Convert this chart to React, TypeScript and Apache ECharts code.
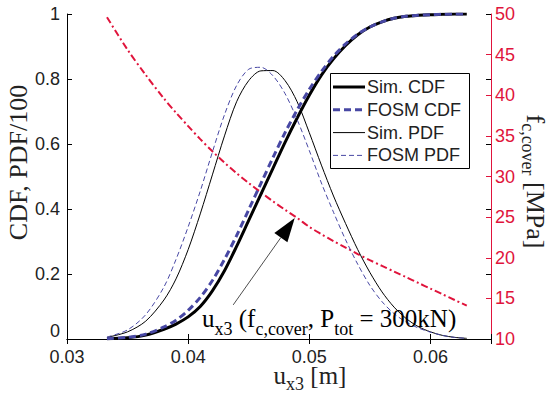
import React, { useEffect, useRef } from 'react';
import * as echarts from 'echarts';

// x values (u_x3 in m)
const U = [0.0333, 0.035, 0.0365, 0.038, 0.039, 0.040, 0.041, 0.042, 0.043, 0.044, 0.045, 0.046, 0.047, 0.048, 0.049, 0.050, 0.051, 0.052, 0.053, 0.054, 0.055, 0.056, 0.057, 0.058, 0.059, 0.060, 0.061, 0.062, 0.063];
const SIM_CDF = [0.001, 0.004, 0.012, 0.03, 0.046, 0.068, 0.10, 0.148, 0.21, 0.285, 0.365, 0.445, 0.525, 0.605, 0.68, 0.75, 0.812, 0.862, 0.903, 0.936, 0.96, 0.976, 0.987, 0.993, 0.996, 0.998, 0.999, 1.0, 1.0];
const FOSM_CDF = [0.001, 0.005, 0.015, 0.037, 0.058, 0.088, 0.128, 0.18, 0.245, 0.318, 0.398, 0.478, 0.558, 0.635, 0.705, 0.768, 0.823, 0.87, 0.908, 0.938, 0.96, 0.976, 0.987, 0.993, 0.996, 0.998, 0.999, 1.0, 1.0];
const SIM_PDF = [0.005, 0.022, 0.055, 0.12, 0.185, 0.275, 0.385, 0.505, 0.625, 0.73, 0.795, 0.825, 0.826, 0.795, 0.73, 0.635, 0.535, 0.44, 0.355, 0.275, 0.205, 0.145, 0.098, 0.063, 0.038, 0.022, 0.011, 0.005, 0.002];
const FOSM_PDF = [0.006, 0.028, 0.075, 0.16, 0.245, 0.345, 0.455, 0.575, 0.69, 0.78, 0.83, 0.836, 0.81, 0.755, 0.675, 0.58, 0.48, 0.39, 0.305, 0.23, 0.165, 0.115, 0.078, 0.052, 0.034, 0.021, 0.011, 0.005, 0.002];
const F_COVER = [49.6, 45.6, 42.5, 39.6, 37.85, 36.2, 34.6, 33.1, 31.7, 30.4, 29.2, 28.05, 26.95, 25.9, 24.9, 23.8, 22.9, 22.05, 21.25, 20.45, 19.7, 19.0, 18.3, 17.6, 16.9, 16.2, 15.5, 14.8, 14.1];

const LEGEND_NAMES = ['Sim. CDF', 'FOSM CDF', 'Sim. PDF', 'FOSM PDF'];
const ARROW_TIP = [0.0488, 24.9];
const ARROW_TAIL = [0.04372, 14.2];

const SERIF = '"Liberation Serif", "Times New Roman", "DejaVu Serif", serif';
const SANS = '"Liberation Sans", Arial, Helvetica, sans-serif';
const RED = '#e0143c';
const BLUE = '#4848a4';
const TXT = '#222';

const STYLES: Record<string, { color: string; width: number; type: any }> = {
  'Sim. CDF': { color: '#000', width: 3, type: 'solid' },
  'FOSM CDF': { color: BLUE, width: 3, type: [7, 4] },
  'Sim. PDF': { color: '#000', width: 1, type: 'solid' },
  'FOSM PDF': { color: BLUE, width: 1, type: [5, 3] },
};

const pairs = (ys: number[]) => U.map((u, i) => [u, ys[i]]);

const richSet = (size: number, lift: number, tight = false) => {
  const sub = Math.round(size * 0.7);
  return {
    m: { fontFamily: SERIF, fontSize: size, color: TXT, verticalAlign: 'bottom', padding: [0, 0, lift, 0], ...(tight ? { lineHeight: size } : {}) },
    s: { fontFamily: SERIF, fontSize: sub, color: TXT, verticalAlign: 'bottom', ...(tight ? { lineHeight: sub } : {}) },
  };
};

export default function App() {
  const ref = useRef<HTMLDivElement>(null);
  useEffect(() => {
    const chart = echarts.init(ref.current!, null, { renderer: 'svg' });
    const tickLabel = { fontFamily: SANS, fontSize: 18, color: TXT, lineHeight: 14 };
    const lineSeries = (name: string, ys: number[], z: number) => ({
      name, type: 'line', data: pairs(ys), symbol: 'none', smooth: 0.3, z,
      lineStyle: { ...STYLES[name] }, itemStyle: { color: STYLES[name].color },
    });
    chart.setOption({
      animation: false,
      backgroundColor: '#fff',
      grid: { left: 67, right: 62, top: 14, bottom: 59, outerBoundsMode: 'none', containLabel: false },
      xAxis: [
        {
          type: 'value', min: 0.03, max: 0.065, interval: 0.01, position: 'bottom',
          axisLine: { lineStyle: { color: '#000', width: 1 } },
          axisTick: { inside: true, length: 5, lineStyle: { color: '#000' } },
          axisLabel: { ...tickLabel, margin: 11, formatter: (v: number) => (v > 0.0645 ? '' : v.toFixed(2)) },
          splitLine: { show: false },
          name: '{m|u}{s|x3}{m| [m]}',
          nameLocation: 'middle',
          nameGap: 29,
          nameMoveOverlap: false,
          nameTextStyle: { padding: [0, 0, 0, 62], rich: richSet(25, 5, true) },
        },
        {
          type: 'value', min: 0.03, max: 0.065, interval: 0.01, position: 'top',
          axisLine: { lineStyle: { color: '#000', width: 1 } },
          axisTick: { inside: true, length: 5, lineStyle: { color: '#000' } },
          axisLabel: { show: false },
          splitLine: { show: false },
        },
      ],
      yAxis: [
        {
          type: 'value', min: 0, max: 1, interval: 0.2, position: 'left',
          axisLine: { show: true, lineStyle: { color: '#000', width: 1 } },
          axisTick: { show: true, inside: true, length: 5, lineStyle: { color: '#000' } },
          axisLabel: {
            ...tickLabel, margin: 7,
            formatter: (v: number) => (v === 0 ? '{z|0}' : String(Math.round(v * 10) / 10)),
            rich: { z: { fontFamily: SANS, fontSize: 18, color: TXT, lineHeight: 14, padding: [0, 0, 16, 0] } },
          },
          splitLine: { show: false },
          name: 'CDF, PDF/100',
          nameLocation: 'middle',
          nameGap: 36,
          nameMoveOverlap: false,
          nameTextStyle: { fontFamily: SERIF, fontSize: 26, color: TXT, padding: [0, 0, 0, 28] },
        },
        {
          type: 'value', min: 10, max: 50, interval: 5, position: 'right',
          axisLine: { show: true, lineStyle: { color: RED, width: 1 } },
          axisTick: { show: true, inside: true, length: 5, lineStyle: { color: RED } },
          axisLabel: { fontFamily: SANS, fontSize: 18, color: RED, margin: 4, lineHeight: 14 },
          splitLine: { show: false },
          name: '{m|f}{s|c,cover}{m| [MPa]}',
          nameLocation: 'middle',
          nameRotate: -90,
          nameGap: 28,
          nameMoveOverlap: false,
          nameTextStyle: { padding: [0, 0, 0, 10], rich: richSet(26, 3) },
        },
        {
          type: 'value', min: 0, max: 1, interval: 0.2, position: 'right',
          axisLine: { show: false },
          axisTick: { show: true, inside: true, length: 5, lineStyle: { color: '#000' } },
          axisLabel: { show: false },
          splitLine: { show: false },
        },
      ],
      series: [
        lineSeries('Sim. CDF', SIM_CDF, 3),
        lineSeries('FOSM CDF', FOSM_CDF, 4),
        lineSeries('Sim. PDF', SIM_PDF, 3),
        lineSeries('FOSM PDF', FOSM_PDF, 3),
        { name: 'f_c,cover', type: 'line', yAxisIndex: 1, data: pairs(F_COVER), symbol: 'none', smooth: 0.3, lineStyle: { color: RED, width: 2, type: [7, 3, 2, 3] }, itemStyle: { color: RED }, z: 2 },
      ],
    });

    const tip = chart.convertToPixel({ xAxisIndex: 0, yAxisIndex: 1 }, ARROW_TIP) as number[];
    const tail = chart.convertToPixel({ xAxisIndex: 0, yAxisIndex: 1 }, ARROW_TAIL) as number[];
    const dx = tip[0] - tail[0];
    const dy = tip[1] - tail[1];
    const len = Math.hypot(dx, dy);
    const ux = dx / len;
    const uy = dy / len;
    const HL = 24;
    const HW = 8;
    const base = [tip[0] - ux * HL, tip[1] - uy * HL];
    const p1 = [base[0] - uy * HW, base[1] + ux * HW];
    const p2 = [base[0] + uy * HW, base[1] - ux * HW];

    // legend box (drawn with graphic elements)
    const LX = 330.5, LY = 73.5, LW = 139, LH = 95, ROW0 = 87, ROWH = 22.8;
    const legendEls: any[] = [
      { type: 'rect', shape: { x: LX, y: LY, width: LW, height: LH }, style: { fill: '#fff', stroke: '#000', lineWidth: 1 }, z: 20 },
    ];
    LEGEND_NAMES.forEach((name, i) => {
      const y = ROW0 + i * ROWH;
      const st = STYLES[name];
      legendEls.push({
        type: 'line', z: 21,
        shape: { x1: 333, y1: y, x2: 365, y2: y },
        style: { stroke: st.color, lineWidth: st.width, lineDash: Array.isArray(st.type) ? st.type : null },
      });
      legendEls.push({
        type: 'text', x: 367, y, z: 21,
        style: { text: name, fontFamily: SANS, fontSize: 18, fill: TXT, verticalAlign: 'middle', align: 'left' },
      });
    });

    chart.setOption({
      graphic: [
        { type: 'line', shape: { x1: tail[0], y1: tail[1], x2: base[0], y2: base[1] }, style: { stroke: '#000', lineWidth: 0.7 }, z: 10 },
        { type: 'polygon', shape: { points: [tip, p1, p2] }, style: { fill: '#000' }, z: 10 },
        {
          type: 'text', x: 202, y: 338, z: 10,
          style: {
            text: '{m|u}{s|x3}{m| (f}{s|c,cover}{m|, P}{s|tot}{m| = 300kN)}',
            rich: richSet(25, 7),
            verticalAlign: 'bottom',
            align: 'left',
          },
        },
        ...legendEls,
      ],
    });

    return () => chart.dispose();
  }, []);
  return <div ref={ref} style={{ position: 'absolute', left: 0, top: 0, width: 553, height: 398 }} />;
}
